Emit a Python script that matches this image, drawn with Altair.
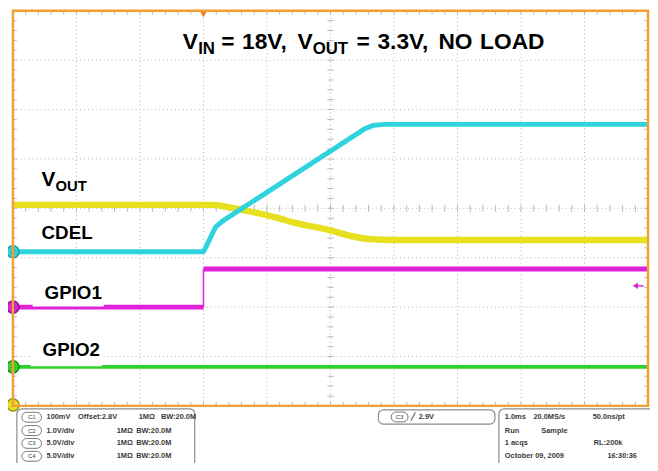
import altair as alt
import pandas as pd

# ---------------- data (screen divisions: x 0..10, y 0..8) ----------------
vout_x = [0.0, 3.14, 3.37, 3.61, 4.15, 4.46, 4.98, 5.32, 5.60, 6.02, 10.0]
vout_y = [4.07, 4.07, 4.03, 3.97, 3.81, 3.70, 3.56, 3.44, 3.38, 3.36, 3.36]
cdel_x = [0.0, 3.0, 3.07, 3.19, 3.30, 5.55, 5.68, 5.85, 10.0]
cdel_y = [3.12, 3.12, 3.30, 3.62, 3.74, 5.62, 5.68, 5.70, 5.70]
gpio1_x = [0.0, 3.0, 3.0, 10.0]
gpio1_y = [2.0, 2.0, 2.77, 2.77]
gpio1_seg = ["low", "low", "high", "high"]
gpio2_x = [0.0, 10.0]
gpio2_y = [0.79, 0.79]

grid_x = [1, 2, 3, 4, 5, 6, 7, 8, 9]
grid_y = [1, 2, 3, 4, 5, 6, 7]

marker_labels = ["1", "2", "3", "4"]
marker_levels = [0.02, 3.12, 2.0, 0.79]

title_parts = ["V", "IN", "=", "18V,", "V", "OUT", "=", "3.3V,", "NO", "LOAD"]
trace_labels = ["V", "OUT", "CDEL", "GPIO1", "GPIO2"]

ch_badges = ["C1", "C2", "C3", "C4"]
ch_scale = ["100mV", "1.0V/div", "5.0V/div", "5.0V/div"]
ch_offset = ["Offset:2.8V", "", "", ""]
ch_imp = ["1MΩ", "1MΩ", "1MΩ", "1MΩ"]
ch_bw = ["BW:20.0M", "BW:20.0M", "BW:20.0M", "BW:20.0M"]
trig_text = ["C3", "╱", "2.9V"]
acq_rows = [["1.0ms", "20.0MS/s", "50.0ns/pt"],
            ["Run", "Sample", ""],
            ["1 acqs", "", "RL:200k"],
            ["October 09, 2009", "", "16:30:36"]]

# ---------------- styles ----------------
YEL = "#E6E01E"
CYA = "#2FD3DE"
MAG = "#DD22DA"
GRN = "#2ED22A"
ORG = "#F2A034"
FONT = "Liberation Sans"

XS = alt.Scale(domain=[0, 10], nice=False, zero=False)
YS = alt.Scale(domain=[0, 8], nice=False, zero=False)


def xq(f):
    return alt.X(f"{f}:Q", scale=XS, axis=None)


def yq(f):
    return alt.Y(f"{f}:Q", scale=YS, axis=None)


layers = []

# graticule dotted lines
gv = pd.DataFrame({"x": grid_x, "y0": 0, "y1": 8})
gh = pd.DataFrame({"y": grid_y, "x0": 0, "x1": 10})
layers.append(alt.Chart(gv).mark_rule(color="#B4B4B4", strokeDash=[1, 3], strokeWidth=1)
              .encode(x=xq("x"), y=yq("y0"), y2="y1"))
layers.append(alt.Chart(gh).mark_rule(color="#B4B4B4", strokeDash=[1, 3], strokeWidth=1)
              .encode(y=yq("y"), x=xq("x0"), x2="x1"))

# minor ticks on centre lines and edges
ticks = []
for k in range(1, 50):
    t = k * 0.2
    ticks.append((t, 3.93, t, 4.07))
    ticks.append((t, 7.92, t, 8.0))
    ticks.append((t, 0.0, t, 0.08))
for k in range(1, 40):
    t = k * 0.2
    ticks.append((4.95, t, 5.05, t))
    ticks.append((0.0, t, 0.06, t))
    ticks.append((9.94, t, 10.0, t))
tdf = pd.DataFrame(ticks, columns=["x0", "y0", "x1", "y1"])
layers.append(alt.Chart(tdf).mark_rule(color="#B8B8B8", strokeWidth=1)
              .encode(x=xq("x0"), x2="x1", y=yq("y0"), y2="y1"))

# traces
vdf = pd.DataFrame({"x": vout_x, "y": vout_y})
cdf = pd.DataFrame({"x": cdel_x, "y": cdel_y})
g1 = pd.DataFrame({"x": gpio1_x, "y": gpio1_y, "seg": gpio1_seg})
g2 = pd.DataFrame({"x": gpio2_x, "y": gpio2_y})

layers.append(alt.Chart(vdf).mark_line(color=YEL, strokeWidth=6.5, strokeJoin="round",
                                       interpolate="monotone")
              .encode(x=xq("x"), y=yq("y")))
layers.append(alt.Chart(cdf).mark_line(color=CYA, strokeWidth=5, strokeJoin="round")
              .encode(x=xq("x"), y=yq("y")))
layers.append(alt.Chart(g1).mark_line(color=MAG, strokeWidth=5)
              .encode(x=xq("x"), y=yq("y"), detail="seg:N"))
step = pd.DataFrame({"x": [gpio1_x[1]], "y0": [gpio1_y[1]], "y1": [gpio1_y[2]]})
layers.append(alt.Chart(step).mark_rule(color=MAG, strokeWidth=1.5)
              .encode(x=xq("x"), y=yq("y0"), y2="y1"))
layers.append(alt.Chart(g2).mark_line(color=GRN, strokeWidth=4)
              .encode(x=xq("x"), y=yq("y")))

# white label backgrounds (cover the upper half of the traces)
bg = pd.DataFrame({"x0": [0.31, 0.28], "x1": [1.43, 1.40],
                   "y0": [2.01, 0.80], "y1": [2.53, 1.38]})
layers.append(alt.Chart(bg).mark_rect(color="white")
              .encode(x=xq("x0"), x2="x1", y=yq("y0"), y2="y1"))

# title (big + subscripts)
tt = pd.DataFrame({
    "t": title_parts,
    "x": [2.675, 2.916, 3.282, 3.608, 4.48, 4.72, 5.41, 5.74, 6.70, 7.356],
    "y": [7.22, 7.13, 7.22, 7.22, 7.22, 7.13, 7.22, 7.22, 7.22, 7.22],
    "s": [23, 17, 23, 23, 23, 17, 23, 23, 23, 23],
})
layers.append(alt.Chart(tt).mark_text(align="left", baseline="alphabetic", font=FONT,
                                      fontWeight="bold", color="black")
              .encode(x=xq("x"), y=yq("y"), text="t:N", size=alt.Size("s:Q", scale=None)))

# trace labels
tl = pd.DataFrame({
    "t": trace_labels,
    "x": [0.451, 0.67, 0.451, 0.498, 0.467],
    "y": [4.447, 4.35, 3.379, 2.174, 1.008],
    "s": [21, 15, 19, 19, 19],
})
layers.append(alt.Chart(tl).mark_text(align="left", baseline="alphabetic", font=FONT,
                                      fontWeight="bold", color="black")
              .encode(x=xq("x"), y=yq("y"), text="t:N", size=alt.Size("s:Q", scale=None)))

# channel markers on the left
mk = pd.DataFrame({"t": marker_labels, "x": 0.0, "y": marker_levels,
                   "c": [YEL, CYA, MAG, GRN],
                   "o": ["#9A9410", "#1A9AA2", "#8A158A", "#1A8A1A"]})
layers.append(alt.Chart(mk).mark_circle(size=150, opacity=1, strokeWidth=1.5)
              .encode(x=xq("x"), y=yq("y"), color=alt.Color("c:N", scale=None),
                      stroke=alt.Stroke("o:N", scale=None)))
layers.append(alt.Chart(mk).mark_text(fontSize=7, font=FONT, color="#333")
              .encode(x=xq("x"), y=yq("y"), text="t:N"))

# trigger level arrow (right) and trigger position (top)
arr = pd.DataFrame({"x": [9.80], "x1": [9.93], "y": [2.43]})
layers.append(alt.Chart(arr).mark_rule(color=MAG, strokeWidth=1.5)
              .encode(x=xq("x"), x2="x1", y=yq("y")))
layers.append(alt.Chart(arr).mark_point(shape="triangle-left", filled=True, size=40,
                                        color=MAG, opacity=1)
              .encode(x=xq("x"), y=yq("y")))
tp = pd.DataFrame({"x": [3.0], "y": [7.93]})
layers.append(alt.Chart(tp).mark_point(shape="triangle-down", filled=True, size=45,
                                       color="#F07A20", opacity=1)
              .encode(x=xq("x"), y=yq("y")))

# frame
fr = pd.DataFrame({"x0": [0], "x1": [10], "y0": [0], "y1": [8]})
layers.append(alt.Chart(fr).mark_rect(fill=None, stroke=ORG, strokeWidth=2.5)
              .encode(x=xq("x0"), x2="x1", y=yq("y0"), y2="y1"))

# ---------------- info panels below the screen ----------------
boxes = pd.DataFrame({"x0": [0.062, 5.754, 7.652], "x1": [2.862, 7.589, 10.08],
                      "y0": [-0.06, -0.08, -0.06], "y1": [-1.4, -0.37, -1.4]})
layers.append(alt.Chart(boxes).mark_rect(fill="white", stroke="#8C8C8C", strokeWidth=1.2,
                                         cornerRadius=5)
              .encode(x=xq("x0"), x2="x1", y=yq("y0"), y2="y1"))

row_y = [-0.23, -0.50, -0.76, -1.02]
badges = pd.DataFrame({"t": ch_badges + [trig_text[0]],
                       "x0": [0.14] * 4 + [5.956], "x1": [0.45] * 4 + [6.221],
                       "y": row_y + [-0.225]})
badges["ya"] = badges["y"] + 0.1
badges["yb"] = badges["y"] - 0.1
badges["xc"] = (badges["x0"] + badges["x1"]) / 2
layers.append(alt.Chart(badges).mark_rect(fill="white", stroke="#777", strokeWidth=1,
                                          cornerRadius=5)
              .encode(x=xq("x0"), x2="x1", y=yq("ya"), y2="yb"))
layers.append(alt.Chart(badges).mark_text(fontSize=6, font=FONT, color="#444")
              .encode(x=xq("xc"), y=yq("y"), text="t:N"))

info = []
for i in range(4):
    info.append((ch_scale[i], 0.529, row_y[i]))
    if ch_offset[i]:
        info.append((ch_offset[i], 1.026, row_y[i]))
        info.append((ch_imp[i], 1.98, row_y[i]))
        info.append((ch_bw[i], 2.33, row_y[i]))
    else:
        info.append((ch_imp[i], 1.633, row_y[i]))
        info.append((ch_bw[i], 1.94, row_y[i]))
info.append((trig_text[1], 6.26, -0.225))
info.append((trig_text[2], 6.39, -0.225))
acq_x = [[7.745, 8.196, 9.129], [7.745, 8.32, 0], [7.745, 0, 9.145], [7.745, 0, 9.36]]
for r, row in enumerate(acq_rows):
    for c, txt in enumerate(row):
        if txt:
            info.append((txt, acq_x[r][c], row_y[r]))
idf = pd.DataFrame(info, columns=["t", "x", "y"])
layers.append(alt.Chart(idf).mark_text(align="left", baseline="middle", fontSize=7.5,
                                       font=FONT, fontWeight="bold", color="#3A3A3A")
              .encode(x=xq("x"), y=yq("y"), text="t:N"))

chart = alt.layer(*layers).properties(
    width=643, height=400,
    padding={"left": 5, "top": 0, "right": 2, "bottom": 55},
    autosize=alt.AutoSizeParams(type="none"),
).configure_view(stroke=None).configure(background="white")

chart.save("out.html", embed_options={"renderer": "svg", "actions": False})
